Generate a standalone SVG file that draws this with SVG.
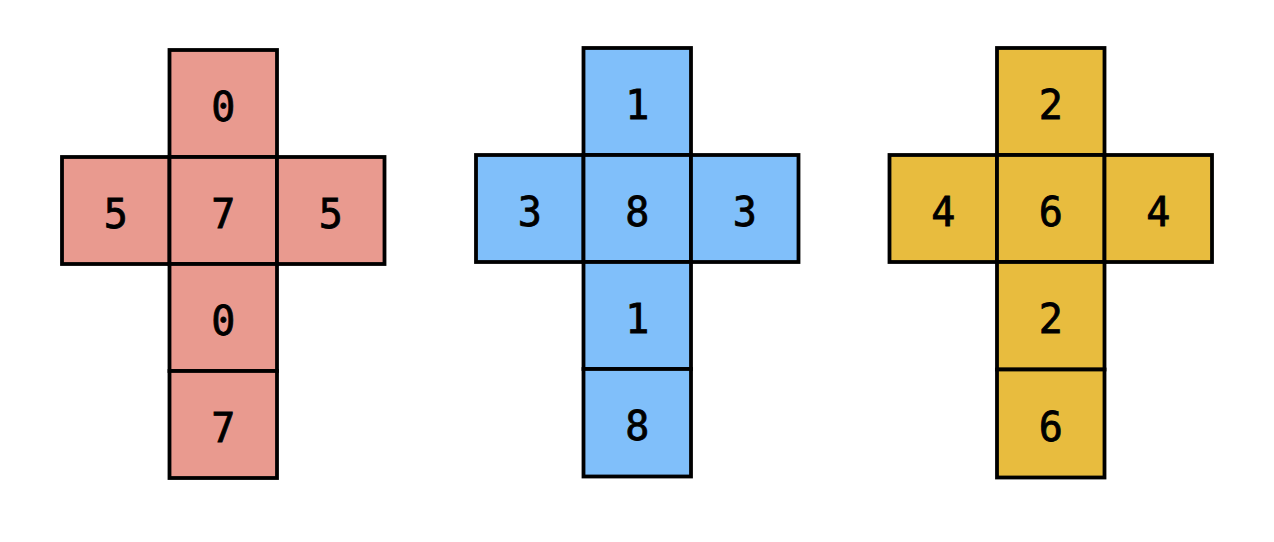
<svg xmlns="http://www.w3.org/2000/svg" width="1274" height="542" viewBox="0 0 1274 542">
<style>
rect{stroke:#000;stroke-width:3.8}
.r rect{fill:#E99A8F}
.b rect{fill:#80BFFA}
.y rect{fill:#E8BC3E}
text{font-family:"DejaVu Sans Mono",monospace;font-size:40px;text-anchor:middle;fill:#000;stroke:#000;stroke-width:0.8}
</style>
<rect width="1274" height="542" fill="#fff" style="stroke:none"/>
<g id="red" class="r">
<rect x="169.5" y="50" width="107.5" height="107"/>
<rect x="62" y="157" width="107.5" height="107"/>
<rect x="169.5" y="157" width="107.5" height="107"/>
<rect x="277" y="157" width="107.5" height="107"/>
<rect x="169.5" y="264" width="107.5" height="107"/>
<rect x="169.5" y="371" width="107.5" height="107"/>
<text x="223.2" y="121">0</text>
<text x="115.7" y="228">5</text>
<text x="223.2" y="228">7</text>
<text x="330.7" y="228">5</text>
<text x="223.2" y="335">0</text>
<text x="223.2" y="442">7</text>
</g>
<g id="blue" class="b">
<rect x="583.5" y="48" width="107.5" height="107"/>
<rect x="476" y="155" width="107.5" height="107"/>
<rect x="583.5" y="155" width="107.5" height="107"/>
<rect x="691" y="155" width="107.5" height="107"/>
<rect x="583.5" y="262" width="107.5" height="107"/>
<rect x="583.5" y="369" width="107.5" height="107.5"/>
<text x="637.2" y="119">1</text>
<text x="529.7" y="226">3</text>
<text x="637.2" y="226">8</text>
<text x="744.7" y="226">3</text>
<text x="637.2" y="333">1</text>
<text x="637.2" y="440">8</text>
</g>
<g id="yellow" class="y">
<rect x="997" y="48" width="107.5" height="107"/>
<rect x="889.5" y="155" width="107.5" height="107"/>
<rect x="997" y="155" width="107.5" height="107"/>
<rect x="1104.5" y="155" width="107.5" height="107"/>
<rect x="997" y="262" width="107.5" height="107.5"/>
<rect x="997" y="369.5" width="107.5" height="108"/>
<text x="1050.7" y="119">2</text>
<text x="943.2" y="226">4</text>
<text x="1050.7" y="226">6</text>
<text x="1158.2" y="226">4</text>
<text x="1050.7" y="333">2</text>
<text x="1050.7" y="441">6</text>
</g>
<g id="connectors"></g>
</svg>
